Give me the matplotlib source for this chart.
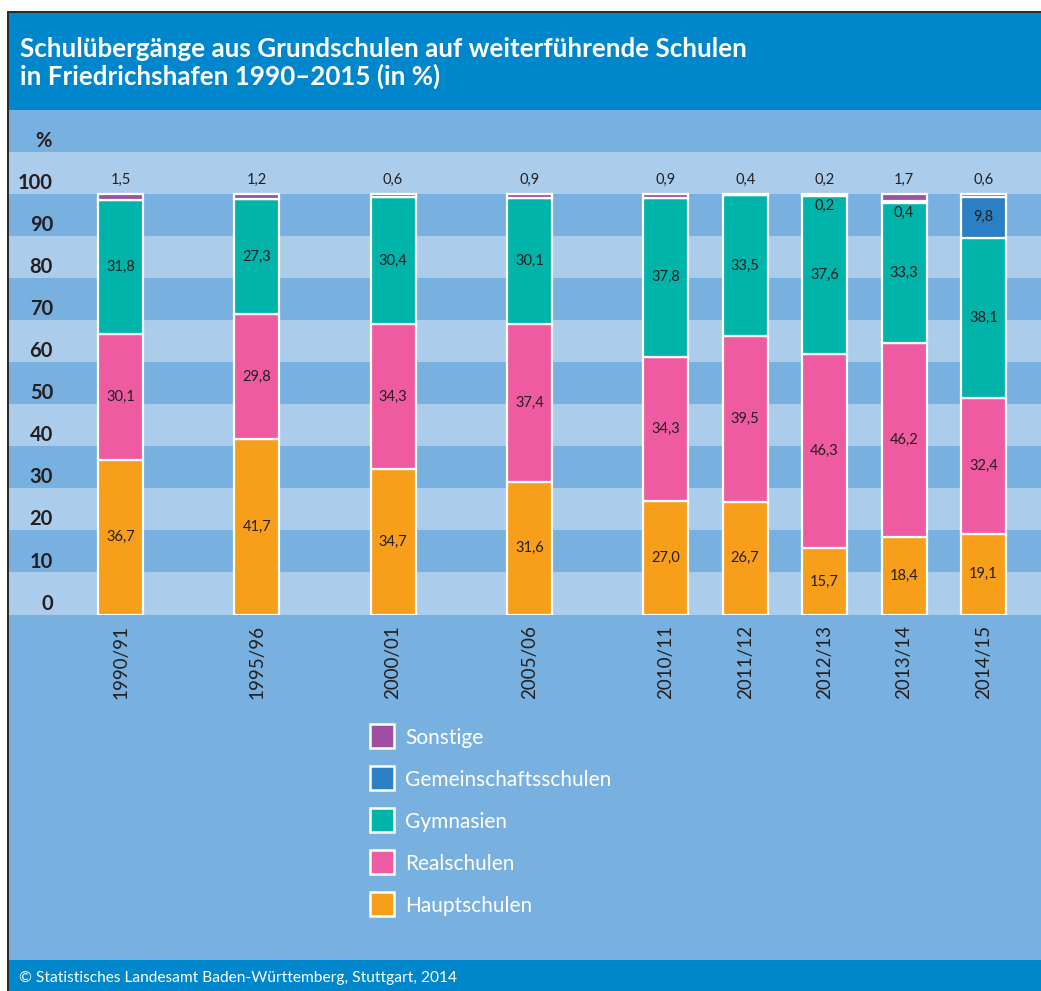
import numpy as np
import matplotlib
matplotlib.use("Agg")
import matplotlib.pyplot as plt
from matplotlib.patches import Rectangle

plt.rcParams['font.family'] = ['Lato', 'DejaVu Sans']

# data (in %)
years = ["1990/91", "1995/96", "2000/01", "2005/06", "2010/11",
         "2011/12", "2012/13", "2013/14", "2014/15"]
hauptschulen = [36.7, 41.7, 34.7, 31.6, 27.0, 26.7, 15.7, 18.4, 19.1]
realschulen = [30.1, 29.8, 34.3, 37.4, 34.3, 39.5, 46.3, 46.2, 32.4]
gymnasien = [31.8, 27.3, 30.4, 30.1, 37.8, 33.5, 37.6, 33.3, 38.1]
gemeinschaftsschulen = [0, 0, 0, 0, 0, 0, 0.2, 0.4, 9.8]
sonstige = [1.5, 1.2, 0.6, 0.9, 0.9, 0.4, 0.2, 1.7, 0.6]

# 5-year steps first, then yearly
xpos = [0, 1, 2, 3, 4, 4.583, 5.166, 5.749, 6.332]

series = [
    ("Hauptschulen", hauptschulen, "#F79E1B"),
    ("Realschulen", realschulen, "#EE5BA0"),
    ("Gymnasien", gymnasien, "#00B4AA"),
    ("Gemeinschaftsschulen", gemeinschaftsschulen, "#2B80C5"),
    ("Sonstige", sonstige, "#9E50A0"),
]

dark_blue = "#0086CB"
mid_blue = "#78B1DF"
light_blue = "#ACCCEB"
txt = "#231F20"

W, H = 1041, 991
fig = plt.figure(figsize=(W / 100, H / 100), dpi=100, facecolor="white")


def frect(x0, y0, x1, y1, color, z=-10, **kw):
    # rectangle given in pixel coords (top-left origin)
    r = Rectangle((x0 / W, 1 - y1 / H), (x1 - x0) / W, (y1 - y0) / H,
                  transform=fig.transFigure, facecolor=color, zorder=z, **kw)
    fig.add_artist(r)
    return r


def ftext(x, y, s, **kw):
    fig.text(x / W, 1 - y / H, s, **kw)


# frame and bands
frect(7, 11, W + 5, H + 5, "#2b2b2b", edgecolor="none")
frect(9, 13, W + 5, 110, dark_blue, edgecolor="none")
frect(9, 110, W + 5, 960, mid_blue, edgecolor="none")
frect(9, 960, W + 5, H + 5, dark_blue, edgecolor="none")

ftext(20, 57, "Schulübergänge aus Grundschulen auf weiterführende Schulen",
      color="white", fontsize=18.7, fontweight="bold", va="baseline")
ftext(20, 85, "in Friedrichshafen 1990–2015 (in %)",
      color="white", fontsize=18.7, fontweight="bold", va="baseline")
ftext(19, 982, "© Statistisches Landesamt Baden-Württemberg, Stuttgart, 2014",
      color="white", fontsize=11.2, va="baseline")

# plot area
x_left = (9 - 120.5) / 136.3
x_right = (W - 120.5) / 136.3
ax = fig.add_axes([9 / W, 1 - 614.5 / H, (W - 9) / W, 504.5 / H])
ax.set_zorder(5)
ax.set_xlim(x_left, x_right)
ax.set_ylim(0, 120)
ax.axis("off")

for k in range(12):
    ax.axhspan(10 * k, 10 * k + 10, color=light_blue if k % 2 == 0 else mid_blue,
               lw=0, zorder=0)

yt = ax.get_yaxis_transform()
for v in range(0, 101, 10):
    ax.text(0.0426, v + 2.6, str(v), transform=yt, ha="right", va="center",
            fontsize=14.5, fontweight="bold", color=txt)
ax.text(0.033, 112.6, "%", transform=yt, ha="center", va="center",
        fontsize=14.5, fontweight="bold", color=txt)

bottom = np.zeros(len(years))
for name, vals, col in series:
    vals = np.array(vals)
    ax.bar(xpos, vals, bottom=bottom, width=0.33, color=col,
           edgecolor="white", linewidth=1.6, zorder=2)
    for i, v in enumerate(vals):
        if v == 0:
            continue
        if name == "Sonstige":
            y = 103.3
        elif name == "Gemeinschaftsschulen" and v < 1:
            y = bottom[i] - 2.3
        else:
            y = bottom[i] + v / 2
        ax.text(xpos[i], y, f"{v:.1f}".replace(".", ","), ha="center",
                va="center", fontsize=10.5, color=txt, zorder=3)
    bottom += vals

for i, lab in enumerate(years):
    ax.text(xpos[i], -2.5, lab, rotation=90, ha="center", va="top",
            fontsize=13.5, color=txt, clip_on=False)

# legend
for k, (name, vals, col) in enumerate(series[::-1]):
    cy = 736 + 42 * k
    frect(370, cy - 12, 394, cy + 12, col, z=10, edgecolor="white", linewidth=1.8)
    ftext(405, cy + 8, name, color="white", fontsize=15, va="baseline")

fig.savefig("out.png", dpi=100, facecolor="white")
